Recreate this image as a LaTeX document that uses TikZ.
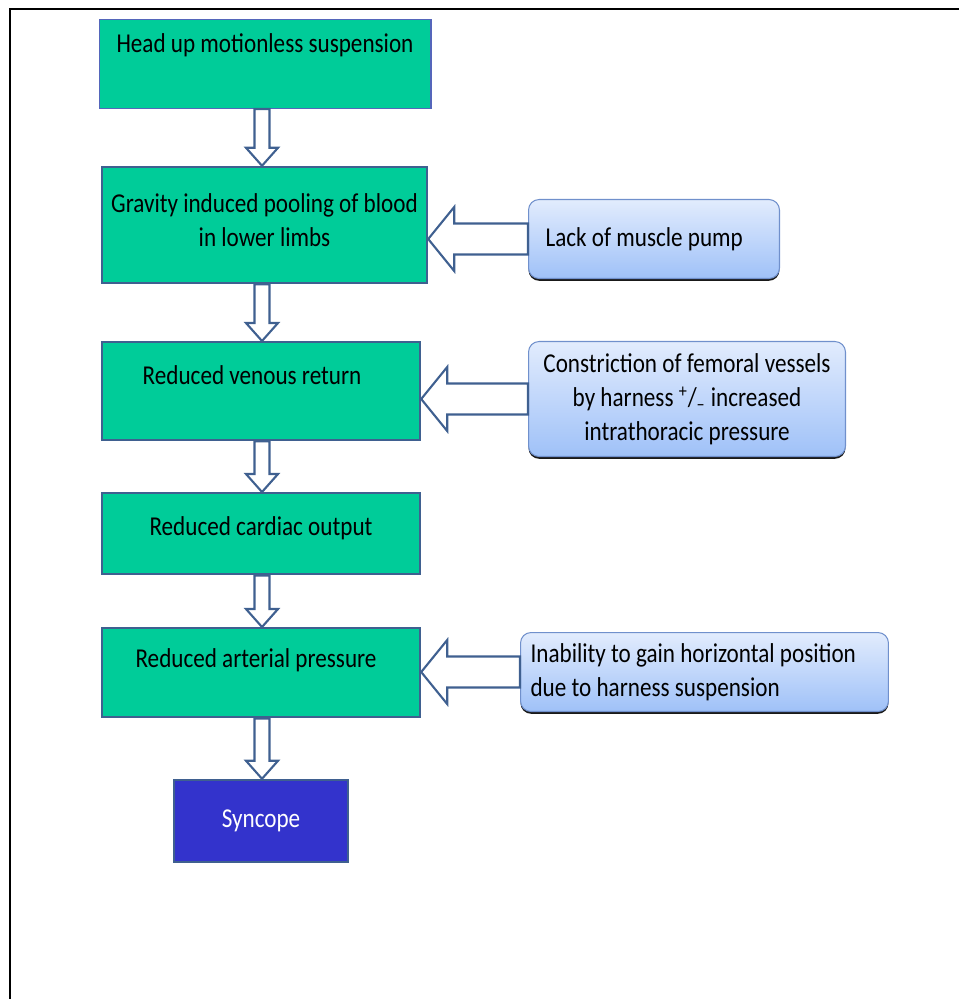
\documentclass[tikz,border=0pt]{standalone}
\usepackage{fontspec}
\setmainfont{Carlito}[FakeStretch=0.85]
\usetikzlibrary{calc,shadows}
\definecolor{boxgreen}{HTML}{00CC99}
\definecolor{edgeblue}{HTML}{3F6090}
\definecolor{headrim}{HTML}{5566BB}
\definecolor{topblue}{HTML}{E2ECFD}
\definecolor{lowblue}{HTML}{9FC1F8}
\definecolor{rimblue}{HTML}{7090CC}
\definecolor{syncblue}{HTML}{3333CC}
\tikzset{
  stage/.style={draw=edgeblue, line width=1.4pt, fill=boxgreen, inner sep=0pt,
    minimum width=6.36cm, font=\fontsize{15.5}{19.5}\selectfont},
  cause/.style={draw=rimblue, line width=0.6pt, rounded corners=6pt,
    top color=topblue, bottom color=lowblue, inner ysep=0pt,
    drop shadow={shadow xshift=0pt, shadow yshift=-1.3pt, opacity=0.9, fill=black},
    font=\fontsize{15.5}{19.5}\selectfont},
  fatarrow/.style={draw=edgeblue, line width=1.2pt, fill=white, line join=miter},
}
%% hollow arrow going down from box #1 to box #2
\newcommand{\fatdown}[2]{%
  \draw[fatarrow] let \p1=(#1.south), \p2=(#2.north), \p3=(spine) in
    (\x3-0.15cm,\y1) -- (\x3-0.15cm,\y2+0.36cm) -- (\x3-0.32cm,\y2+0.36cm) -- (\x3,\y2)
    -- (\x3+0.32cm,\y2+0.36cm) -- (\x3+0.15cm,\y2+0.36cm) -- (\x3+0.15cm,\y1) -- cycle;}
%% hollow arrow going left from box #1 to box #2
\newcommand{\fatleft}[2]{%
  \draw[fatarrow] let \p1=(#1.west), \p2=(#2.east) in
    (\x1,\y1+0.31cm) -- (\x2+0.52cm,\y1+0.31cm) -- (\x2+0.52cm,\y1+0.64cm) -- (\x2,\y1)
    -- (\x2+0.52cm,\y1-0.64cm) -- (\x2+0.52cm,\y1-0.31cm) -- (\x1,\y1-0.31cm) -- cycle;}
\begin{document}
\begin{tikzpicture}[x=0.02cm,y=-0.02cm]
    \useasboundingbox (0,0) rectangle (959,999);
    %% Frame
    \draw[line width=1.1pt] (10,999) -- (10,9) -- (959,9);
    \coordinate (spine) at (262,0);
    %% Main chain
    \node[stage, draw=headrim, line width=0.6pt, anchor=north, minimum width=6.64cm,
      text height=0.66cm, text depth=1.12cm] (head) at (265,19) {Head up motionless suspension};
    \node[stage, minimum width=6.5cm, minimum height=2.32cm, align=center] (pool) at (264.5,225)
      {Gravity induced pooling of blood\\in lower limbs\\[-14pt]};
    \node[stage, anchor=north, text height=0.84cm, text depth=1.12cm] (venous) at (261,341)
      {Reduced venous return\kern0.36cm};
    \node[stage, anchor=north, text height=0.84cm, text depth=0.78cm] (cardiac) at (261,492) {Reduced cardiac output};
    \node[stage, anchor=north, text height=0.78cm, text depth=1.0cm] (arterial) at (261,627)
      {Reduced arterial pressure\kern0.2cm};
    \node[stage, fill=syncblue, text=white, minimum width=3.48cm, minimum height=1.64cm] (syncope) at (261,821) {Syncope};
    %% Causes
    \node[cause, anchor=north west, minimum width=5.02cm, minimum height=1.58cm, inner xsep=0.34cm,
      text width=4.34cm, align=flush left] (pump) at (528,199) {Lack of muscle pump};
    \node[cause, anchor=north west, minimum width=6.34cm, minimum height=2.3cm, inner xsep=0.2cm,
      text width=5.94cm, align=flush center] (femoral) at (528,341)
      {Constriction of femoral vessels\\by harness \textsuperscript{+}/\textsubscript{--} increased\\intrathoracic pressure};
    \node[cause, anchor=north west, minimum width=7.36cm, minimum height=1.58cm, inner xsep=0.2cm,
      text width=6.96cm, align=flush left] (horizontal) at (520,632)
      {Inability to gain horizontal position\\due to harness suspension};
    %% Arrows
    \fatdown{head}{pool}
    \fatdown{pool}{venous}
    \fatdown{venous}{cardiac}
    \fatdown{cardiac}{arterial}
    \fatdown{arterial}{syncope}
    \fatleft{pump}{pool}
    \fatleft{femoral}{venous}
    \fatleft{horizontal}{arterial}
\end{tikzpicture}
\end{document}
